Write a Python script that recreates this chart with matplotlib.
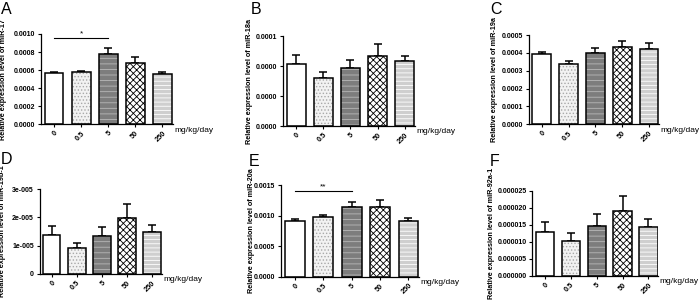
import matplotlib
matplotlib.use("Agg")
import matplotlib.pyplot as plt
import numpy as np

plt.rcParams["font.family"] = ["Liberation Sans", "DejaVu Sans"]
plt.rcParams["hatch.linewidth"] = 0.6

# Dose groups (mg/kg/day)
doses = ["0", "0.5", "5", "50", "250"]

# Relative expression levels (mean) and upper SEM
mir17_mean = [0.000565, 0.000576, 0.000775, 0.000682, 0.000562]
mir17_err = [0.000017, 0.000017, 0.000073, 0.000067, 0.000020]

mir18a_mean = [6.85e-5, 5.37e-5, 6.41e-5, 7.81e-5, 7.19e-5]
mir18a_err = [1.05e-5, 0.59e-5, 0.89e-5, 1.34e-5, 0.59e-5]

mir19a_mean = [0.000392, 0.000338, 0.000401, 0.000431, 0.000423]
mir19a_err = [0.000013, 0.000015, 0.000026, 0.000034, 0.000032]

mir19b1_mean = [1.365e-5, 0.92e-5, 1.33e-5, 1.99e-5, 1.48e-5]
mir19b1_err = [0.315e-5, 0.16e-5, 0.34e-5, 0.47e-5, 0.25e-5]

mir20a_mean = [0.000916, 0.000971, 0.001140, 0.001140, 0.000916]
mir20a_err = [0.000033, 0.000044, 0.000076, 0.000110, 0.000044]

mir92a1_mean = [1.300e-5, 1.035e-5, 1.465e-5, 1.900e-5, 1.445e-5]
mir92a1_err = [0.28e-5, 0.215e-5, 0.365e-5, 0.45e-5, 0.235e-5]

# Fill / hatch for each dose group
fills = ["white", "#f2f2f2", "#7d7d7d", "white", "#cfcfcf"]
hatches = [None, ".....", "---", "xxxxx", "----"]
hatch_colors = ["white", "#a8a8a8", "#b8b8b8", "black", "white"]

W, H = 700, 301


def make_axes(fig, left, top, right, bottom):
    return fig.add_axes([left / W, 1 - bottom / H, (right - left) / W, (bottom - top) / H])


def draw_panel(ax, means, errs, ylabel, ymax, yticks, yticklabels, letter, label_x_px, ax_px):
    x = np.arange(len(doses))
    # hatched fill first, outline afterwards
    for i in range(len(doses)):
        ax.bar(x[i], means[i], width=0.7, color=fills[i], hatch=hatches[i],
               edgecolor=hatch_colors[i], linewidth=0, zorder=2)
    ax.bar(x, means, width=0.7, facecolor="none", edgecolor="black",
           linewidth=1.1, zorder=3)
    ax.errorbar(x, means, yerr=[np.zeros(len(means)), errs], fmt="none",
                ecolor="black", elinewidth=1.1, capsize=3, capthick=1.1, zorder=1)

    ax.set_xlim(-0.48, 4.38)
    ax.set_ylim(0, ymax)
    ax.set_yticks(yticks)
    ax.set_yticklabels(yticklabels, fontsize=5, fontweight="bold")
    ax.set_xticks(x)
    ax.set_xticklabels(doses, fontsize=5.3, fontweight="bold", rotation=45,
                       ha="right", rotation_mode="anchor")
    ax.tick_params(axis="both", length=2.5, width=0.8, pad=1.5)

    for side in ["top", "right"]:
        ax.spines[side].set_visible(False)
    for side in ["left", "bottom"]:
        ax.spines[side].set_linewidth(0.9)

    ax.set_ylabel(ylabel, fontsize=5.2, fontweight="bold")
    left, top, right, bottom = ax_px
    ax.yaxis.set_label_coords(-(left - label_x_px) / (right - left), 0.5)

    ax.text(1.01, -0.065, "mg/kg/day", transform=ax.transAxes, fontsize=6,
            ha="left", va="center")
    fig.text(letter[1] / W, 1 - letter[2] / H, letter[0], fontsize=11.5,
             ha="left", va="top")


def significance(ax, x0, x1, y, mark):
    ax.plot([x0, x1], [y, y], color="black", linewidth=0.8)
    ax.text((x0 + x1) / 2, y, mark, ha="center", va="bottom", fontsize=6)


fig = plt.figure(figsize=(7, 3.01), dpi=100)

# A: miR-17
box = (41, 34, 172.7, 124.3)
ax = make_axes(fig, *box)
draw_panel(ax, mir17_mean, mir17_err, "Relative expression level of miR-17", 0.0010,
           np.arange(0, 0.00101, 0.0002), ["%.4f" % v for v in np.arange(0, 0.00101, 0.0002)],
           ("A", 1, 2), 7.5, box)
significance(ax, 0, 2, 0.00096, "*")

# B: miR-18a
box = (283, 36, 415, 126)
ax = make_axes(fig, *box)
draw_panel(ax, mir18a_mean, mir18a_err, "Relative expression level of miR-18a", 0.0001,
           [0, 0.0001 / 3, 0.0002 / 3, 0.0001], ["0.0000", "0.0000", "0.0000", "0.0001"],
           ("B", 251, 2), 253, box)

# C: miR-19a
box = (529, 35, 659.3, 124.3)
ax = make_axes(fig, *box)
draw_panel(ax, mir19a_mean, mir19a_err, "Relative expression level of miR-19a", 0.0005,
           np.arange(0, 0.00051, 0.0001), ["%.4f" % v for v in np.arange(0, 0.00051, 0.0001)],
           ("C", 490, 2), 498, box)

# D: miR-19b-1
box = (39.5, 189, 161.7, 274)
ax = make_axes(fig, *box)
draw_panel(ax, mir19b1_mean, mir19b1_err, "Relative expression level of miR-19b-1", 3e-5,
           [0, 1e-5, 2e-5, 3e-5], ["0", "1e-005", "2e-005", "3e-005"],
           ("D", 1, 152), 6, box)

# E: miR-20a
box = (281, 185, 419.3, 276.7)
ax = make_axes(fig, *box)
draw_panel(ax, mir20a_mean, mir20a_err, "Relative expression level of miR-20a", 0.0015,
           [0, 0.0005, 0.0010, 0.0015], ["0.0000", "0.0005", "0.0010", "0.0015"],
           ("E", 249, 154), 255, box)
significance(ax, 0, 2, 0.001407, "**")

# F: miR-92a-1
box = (532.3, 190.7, 658.3, 276)
ax = make_axes(fig, *box)
draw_panel(ax, mir92a1_mean, mir92a1_err, "Relative expression level of miR-92a-1", 0.000025,
           np.arange(0, 0.0000251, 0.000005), ["%.6f" % v for v in np.arange(0, 0.0000251, 0.000005)],
           ("F", 490, 154), 495, box)

fig.savefig("out.png", dpi=100, facecolor="white")
